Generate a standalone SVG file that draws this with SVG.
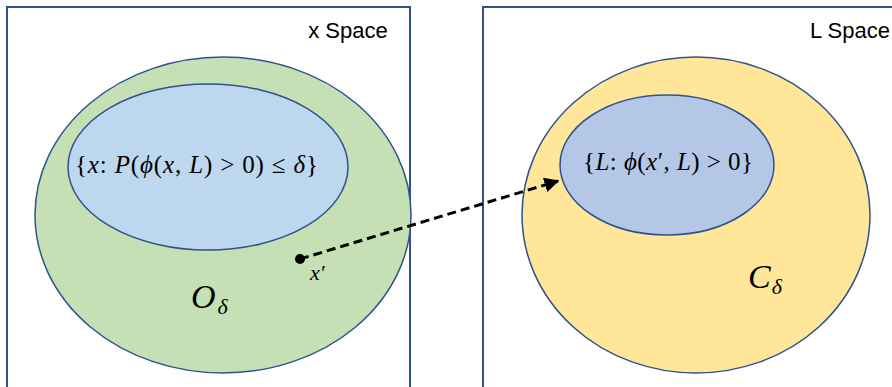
<svg xmlns="http://www.w3.org/2000/svg" width="892" height="387" viewBox="0 0 892 387">
<defs>
<style>
.box{fill:#fff;stroke:#2f528f;stroke-width:2}
.ell{stroke:#2f528f;stroke-width:1.5}
.lab{font-family:"Liberation Sans",Arial,sans-serif;font-size:22px;fill:#000}
.m{font-family:"Liberation Serif","DejaVu Serif",serif;fill:#000}
.i{font-style:italic}
</style>
<marker id="ah" viewBox="0 0 10 10" refX="9" refY="5" markerWidth="5" markerHeight="5" orient="auto" markerUnits="strokeWidth">
<path d="M0,0 L10,5 L0,10 z" fill="#000"/>
</marker>
</defs>
<g id="xspace">
<rect class="box" x="7" y="7" width="403" height="390"/>
<text class="lab" x="348" y="38" text-anchor="middle">x Space</text>
</g>
<g id="lspace">
<rect class="box" x="483" y="7" width="420" height="390"/>
<text class="lab" x="850" y="38" text-anchor="middle">L Space</text>
</g>
<g id="O-delta">
<ellipse class="ell" cx="223" cy="215" rx="188" ry="158" fill="#c5e0b4"/>
<text class="m i" x="191" y="308" font-size="34">O<tspan font-size="22" dx="2" dy="6">δ</tspan></text>
</g>
<g id="x-set">
<ellipse class="ell" cx="208" cy="167" rx="140" ry="83" fill="#bdd7ee"/>
<text class="m" x="75" y="173" font-size="25" textLength="243" lengthAdjust="spacing">{<tspan class="i">x</tspan>: <tspan class="i">P</tspan>(<tspan class="i">ϕ</tspan>(<tspan class="i">x</tspan>, <tspan class="i">L</tspan>) &gt; 0) ≤ <tspan class="i">δ</tspan>}</text>
</g>
<g id="C-delta">
<ellipse class="ell" cx="696" cy="215" rx="174" ry="158" fill="#ffe699"/>
<text class="m i" x="748" y="288" font-size="34">C<tspan font-size="22" dx="1" dy="6">δ</tspan></text>
</g>
<g id="L-set">
<ellipse class="ell" cx="667" cy="165" rx="107" ry="70" fill="#b4c7e7"/>
<text class="m" x="583" y="170" font-size="25" textLength="170" lengthAdjust="spacing">{<tspan class="i">L</tspan>: <tspan class="i">ϕ</tspan>(<tspan class="i">x</tspan>′, <tspan class="i">L</tspan>) &gt; 0}</text>
</g>
<g id="xprime">
<circle cx="300" cy="259" r="5" fill="#000"/>
<text class="m i" x="310" y="280" font-size="22">x′</text>
</g>
<g id="connectors">
<line x1="300" y1="259" x2="558" y2="181" stroke="#000" stroke-width="3" stroke-dasharray="9,5" marker-end="url(#ah)"/>
</g>
</svg>
